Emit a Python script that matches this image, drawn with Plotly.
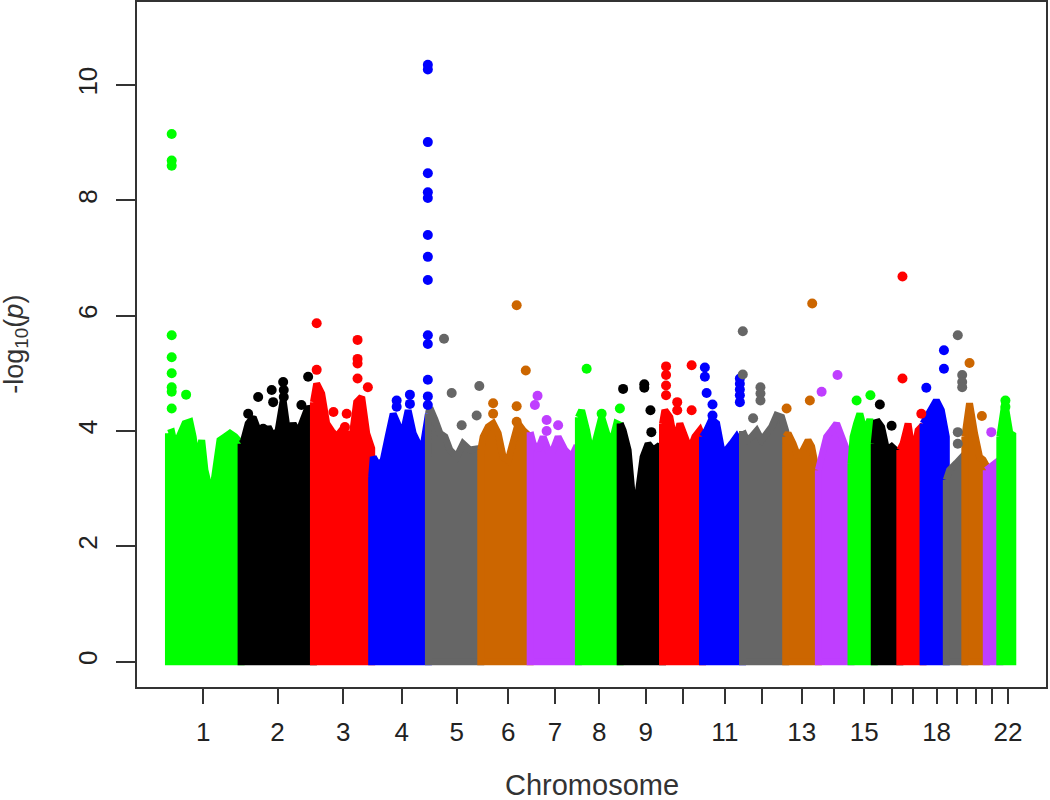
import plotly.graph_objects as go

# ---------------- data ----------------
CHROMOSOMES = ["1", "2", "3", "4", "5", "6", "7", "8", "9", "10", "11",
               "12", "13", "14", "15", "16", "17", "18", "19", "20", "21", "22"]

# span of genotyped positions per chromosome (Mb)
CHROM_LEN_MB = [247, 246, 198, 193, 178, 168, 164, 142, 144, 136, 136,
                147, 111, 111, 79, 87, 79, 79, 63, 73, 46, 44]

# axis label position inside each chromosome (Mb)
TICK_POS_MB = [118, 124, 101, 102, 96, 93, 84, 71, 87, 68, 76,
               67, 54, 54, 45, 62, 45, 46, 38, 37, 21, 28]
TICK_TEXT = ["1", "2", "3", "4", "5", "6", "7", "8", "9", "", "11",
             "", "13", "", "15", "", "", "18", "", "", "", "22"]

# upper envelope of the dense SNP cloud: positions (Mb) and -log10(p)
ENV_POS_MB = [
    [0, 11, 22, 39, 56, 73, 84, 96, 113, 124, 135, 141, 152, 164, 175, 192, 209, 226, 247],
    [0, 7.5, 24, 41, 58, 75, 92, 109, 126, 143, 160, 177, 194, 211, 228, 246],
    [0, 11, 28, 45, 62, 79, 96, 113, 130, 147, 164, 181, 198],
    [0, 5.4, 22, 39, 56, 73, 90, 107, 124, 141, 158, 175, 193],
    [0, 5, 22, 39, 56, 73, 96, 118, 141, 158, 178],
    [0, 8, 25, 42, 59, 76, 93, 110, 127, 144, 156, 168],
    [0, 10, 27, 44, 61, 78, 95, 118, 141, 152, 164],
    [0, 11, 28, 45, 62, 79, 96, 113, 130, 142],
    [0, 10, 27, 44, 61, 78, 95, 112, 129, 144],
    [0, 8, 25, 42, 59, 76, 93, 110, 127, 136],
    [0, 14, 31, 48, 65, 82, 99, 116, 127, 136],
    [0, 14, 31, 48, 65, 82, 99, 116, 133, 147],
    [0, 8, 25, 42, 59, 76, 88, 99, 111],
    [0, 11, 28, 45, 62, 79, 96, 111],
    [0, 7, 19, 30, 47, 64, 79],
    [0, 8, 25, 42, 59, 76, 87],
    [0, 11, 28, 45, 62, 79],
    [0, 11, 28, 45, 62, 79],
    [0, 11, 34, 51, 63],
    [0, 16, 33, 50, 62, 73],
    [0, 17, 34, 46],
    [0, 17, 34, 44],
]
ENV_LOGP = [
    [3.96, 3.98, 3.73, 3.90, 4.13, 4.16, 3.90, 3.44, 3.84, 3.32, 3.09, 2.63, 3.09, 3.55, 3.84, 3.90, 3.96, 3.90, 3.78],
    [3.78, 3.81, 4.13, 4.24, 4.01, 3.84, 4.07, 3.90, 4.01, 4.53, 3.90, 4.13, 3.96, 4.24, 4.42, 4.30],
    [4.50, 4.82, 4.65, 4.13, 4.00, 3.90, 4.01, 3.96, 3.84, 4.50, 4.59, 3.96, 3.70],
    [3.20, 3.55, 3.40, 3.49, 3.90, 4.30, 4.10, 3.96, 4.36, 3.96, 3.78, 3.73, 4.30],
    [4.30, 4.40, 4.20, 3.96, 3.90, 3.67, 3.55, 3.78, 3.67, 3.67, 3.70],
    [3.67, 3.90, 4.07, 4.13, 3.96, 3.55, 3.49, 3.78, 4.13, 4.01, 3.96, 3.90],
    [3.98, 3.78, 3.67, 3.90, 3.67, 3.67, 3.90, 3.67, 3.55, 3.67, 3.60],
    [4.24, 4.36, 4.01, 3.55, 3.90, 4.24, 3.96, 3.78, 4.13, 4.10],
    [4.13, 4.01, 3.67, 2.70, 2.90, 3.55, 3.78, 3.67, 3.73, 3.70],
    [4.13, 4.36, 4.24, 3.78, 4.13, 3.90, 3.67, 3.90, 4.01, 3.90],
    [3.90, 4.01, 4.20, 4.13, 3.67, 3.67, 3.78, 3.90, 3.80, 3.70],
    [4.00, 3.84, 3.90, 4.00, 3.84, 3.96, 4.07, 4.27, 4.24, 4.00],
    [3.90, 3.96, 3.78, 3.55, 3.67, 3.84, 3.73, 3.44, 3.40],
    [3.32, 3.61, 3.90, 4.01, 4.13, 3.90, 3.67, 3.60],
    [3.44, 3.90, 4.13, 4.30, 3.96, 4.20, 3.90],
    [3.78, 4.19, 4.07, 3.67, 3.73, 3.67, 3.60],
    [3.67, 3.78, 4.13, 3.55, 4.01, 4.10],
    [4.13, 4.24, 4.36, 4.53, 4.36, 3.90],
    [3.15, 3.32, 3.44, 3.55, 3.60],
    [3.90, 4.48, 3.96, 3.55, 3.50, 3.40],
    [3.32, 3.38, 3.44, 3.50],
    [3.90, 4.48, 3.96, 3.93],
]

# individual SNPs standing out above the cloud
TOP_CHR = [1, 1, 1, 1, 1, 1, 1, 1, 1, 1,
           2, 2, 2, 2, 2, 2, 2, 2, 2, 2,
           3, 3, 3, 3, 3, 3, 3, 3, 3, 3,
           4, 4, 4, 4, 4, 4, 4, 4, 4, 4, 4, 4, 4, 4, 4, 4, 4, 4,
           5, 5, 5, 5, 5,
           6, 6, 6, 6, 6, 6,
           7, 7, 7, 7, 7,
           8, 8, 8,
           9, 9, 9, 9, 9, 9, 9, 9,
           10, 10, 10, 10, 10, 10, 10, 10,
           11, 11, 11, 11, 11, 11, 11, 11, 11, 11,
           12, 12, 12, 12, 12, 12,
           13, 13, 13,
           14, 14,
           15, 15,
           16, 16,
           17, 17, 17,
           18, 18, 18,
           19, 19, 19, 19, 19, 19,
           20, 20,
           21,
           22, 22, 22]
TOP_POS_MB = [11, 11, 11, 11, 11, 11, 11, 11, 11, 60,
              24, 58, 75, 104, 109, 143, 145, 145, 205, 228,
              11, 11, 150, 150, 150, 150, 185, 68, 113, 107,
              85, 85, 130, 130, 191, 191, 191, 191, 191, 191, 191, 191, 191, 191, 191, 191, 191, 191,
              53, 79, 173, 113, 164,
              42, 42, 122, 153, 122, 122,
              25, 16, 56, 95, 56,
              28, 141, 79,
              10, 82, 82, 103, 106, 56, 58, 60,
              12, 12, 12, 12, 50, 50, 99, 99,
              8, 8, 14, 34, 34, 127, 127, 127, 127, 127,
              1, 1, 61, 61, 61, 36,
              3, 90, 82,
              11, 65,
              19, 66,
              19, 59,
              9, 9, 73,
              71, 71, 11,
              39, 54, 54, 54, 39, 39,
              16, 58,
              17,
              19, 19, 17]
TOP_LOGP = [9.15, 8.69, 8.60, 5.66, 5.28, 5.00, 4.76, 4.68, 4.39, 4.63,
            4.30, 4.59, 4.04, 4.71, 4.50, 4.85, 4.71, 4.59, 4.45, 4.94,
            5.87, 5.06, 5.58, 5.25, 5.17, 4.91, 4.76, 4.33, 4.30, 4.07,
            4.53, 4.42, 4.63, 4.47, 10.35, 10.27, 9.01, 8.47, 8.14, 8.04, 7.40, 7.02, 6.62, 5.66, 5.51, 4.89, 4.60, 4.45,
            5.60, 4.66, 4.78, 4.10, 4.27,
            4.48, 4.30, 6.18, 5.05, 4.43, 4.16,
            4.61, 4.45, 4.19, 4.10, 4.00,
            5.08, 4.39, 4.30,
            4.73, 4.81, 4.75, 4.36, 3.98, 2.83, 2.51, 2.28,
            5.12, 4.97, 4.79, 4.62, 4.50, 4.36, 5.14, 4.36,
            5.10, 4.94, 4.66, 4.46, 4.27, 4.91, 4.82, 4.72, 4.62, 4.50,
            5.73, 4.98, 4.76, 4.65, 4.53, 4.22,
            4.39, 6.21, 4.53,
            4.68, 4.97,
            4.53, 4.62,
            4.46, 4.09,
            6.68, 4.91, 4.30,
            5.40, 5.08, 4.75,
            5.66, 4.97, 4.85, 4.76, 3.98, 3.78,
            5.18, 4.26,
            3.98,
            4.53, 4.42, 4.13]

# ---------------- style ----------------
PALETTE = ["#00FF00", "#000000", "#FF0000", "#0000FF", "#666666", "#CC6600", "#BF3EFF"]
FONT = "Liberation Sans, Arial, sans-serif"
AXIS_COLOR = "#333333"

offsets = []
acc = 0
for L in CHROM_LEN_MB:
    offsets.append(acc)
    acc += L

fig = go.Figure()

for k, L in enumerate(CHROM_LEN_MB):
    col = PALETTE[k % len(PALETTE)]
    off = offsets[k]
    xs = [off + p for p in ENV_POS_MB[k]] + [off + L, off, off]
    ys = list(ENV_LOGP[k]) + [0, 0, ENV_LOGP[k][0]]
    fig.add_trace(go.Scatter(
        x=xs, y=ys, mode="lines", fill="toself", fillcolor=col,
        line=dict(color=col, width=7), hoverinfo="skip", showlegend=False,
        name="chr" + CHROMOSOMES[k]))

top_x = [offsets[c - 1] + p for c, p in zip(TOP_CHR, TOP_POS_MB)]
top_col = [PALETTE[(c - 1) % len(PALETTE)] for c in TOP_CHR]
fig.add_trace(go.Scatter(
    x=top_x, y=TOP_LOGP, mode="markers",
    marker=dict(color=top_col, size=10, line=dict(width=0)),
    showlegend=False))

tick_x = [offsets[k] + TICK_POS_MB[k] for k in range(len(CHROMOSOMES))]

fig.update_xaxes(
    range=[-107, 2984], tickmode="array", tickvals=tick_x, ticktext=TICK_TEXT,
    ticks="outside", ticklen=15, tickwidth=2, tickcolor=AXIS_COLOR,
    showline=True, linecolor=AXIS_COLOR, linewidth=2, mirror=True,
    showgrid=False, zeroline=False, automargin=False,
    tickfont=dict(family=FONT, size=26, color="#222222"),
    ticklabelstandoff=6)
fig.update_yaxes(
    range=[-0.44, 11.44], tickmode="array", tickvals=[0, 2, 4, 6, 8, 10],
    ticktext=["0", "2", "4", "6", "8", "10"], tickangle=-90,
    ticks="outside", ticklen=19, tickwidth=2, tickcolor=AXIS_COLOR,
    showline=True, linecolor=AXIS_COLOR, linewidth=2, mirror=True,
    showgrid=False, zeroline=False, automargin=False,
    tickfont=dict(family=FONT, size=26, color="#222222"),
    ticklabelstandoff=9)

fig.add_annotation(text="Chromosome", xref="paper", yref="paper",
                   x=0.5, y=-0.168, xanchor="center", yanchor="bottom", borderpad=0,
                   showarrow=False, font=dict(family=FONT, size=29, color="#333333"))
fig.add_annotation(text="-log<sub>10</sub>(<i>p</i>)", xref="paper", yref="paper",
                   x=-0.134, y=0.5, xanchor="center", yanchor="middle", textangle=-90,
                   showarrow=False, font=dict(family=FONT, size=27, color="#333333"))

fig.update_layout(
    width=1050, height=800,
    margin=dict(l=137, r=4, t=2, b=113, autoexpand=False),
    plot_bgcolor="white", paper_bgcolor="white",
    showlegend=False,
    font=dict(family=FONT),
)

fig.write_html("out.html", config={"displayModeBar": False},
               post_script="document.body.style.margin='0';document.body.style.overflow='hidden';")
